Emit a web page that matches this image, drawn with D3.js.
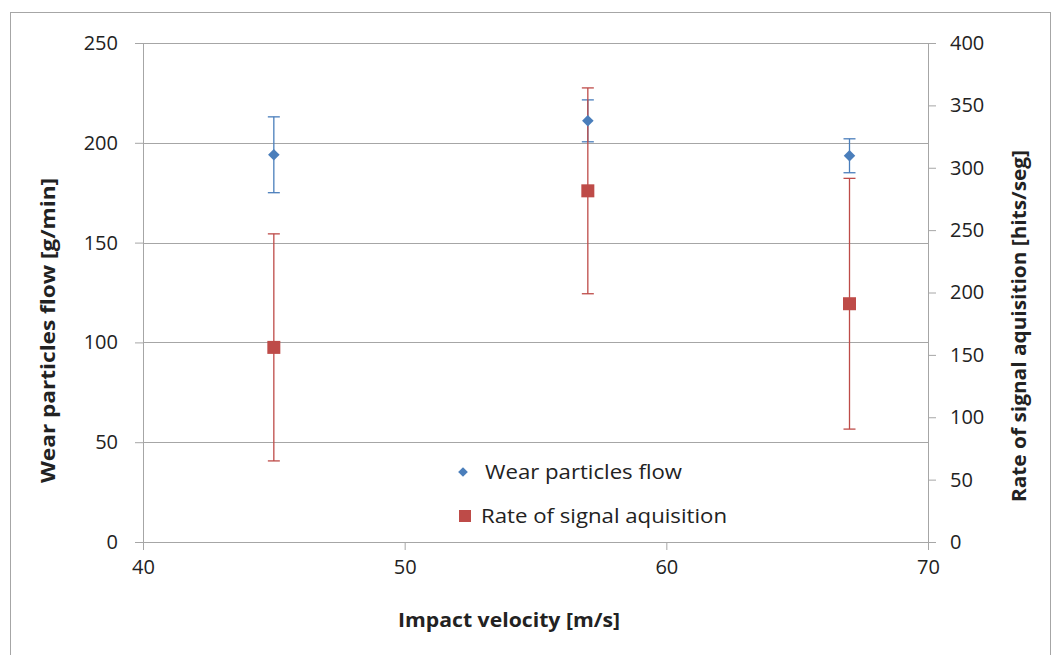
<!DOCTYPE html>
<html>
<head>
<meta charset="utf-8">
<script src="https://cdn.jsdelivr.net/npm/d3@7"></script>
<style>
  body { margin: 0; background: #fff; }
  svg text { font-family: "Open Sans", "Liberation Sans", sans-serif; fill: #222; }
</style>
</head>
<body>
<script>
// impact velocity [m/s]
var velocity = [45, 57, 67];
// wear particles flow [g/min] and its error
var wearFlow = [194, 211, 193.5];
var wearErr = [19, 10.5, 8.5];
// rate of signal aquisition [hits/seg] and its error
var signalRate = [156, 281.5, 191];
var signalErr = [91, 82.5, 100.5];

var xTicks = [40, 50, 60, 70];
var leftTicks = [0, 50, 100, 150, 200, 250];
var rightTicks = [0, 50, 100, 150, 200, 250, 300, 350, 400];

var W = 1057, H = 655;
var margin = { top: 43, right: 129, bottom: 113, left: 143 },
    width = W - margin.left - margin.right,
    height = H - margin.top - margin.bottom;

var blue = "#4a7ebb", red = "#be4b48";
var gridColor = "#a6a6a6";

var svg = d3.select("body").append("svg")
  .attr("width", W)
  .attr("height", H);

// chart frame
svg.append("rect")
  .attr("x", 10.5).attr("y", 12.5)
  .attr("width", 1040).attr("height", 660)
  .attr("fill", "none")
  .attr("stroke", "#a6a6a6");

var g = svg.append("g")
  .attr("transform", "translate(" + margin.left + "," + margin.top + ")");

var x = d3.scaleLinear().domain([40, 70]).range([0, width]);
var yL = d3.scaleLinear().domain([0, 250]).range([height, 0]);
var yR = d3.scaleLinear().domain([0, 400]).range([height, 0]);

// horizontal grid lines
g.append("g")
  .selectAll("line")
  .data(leftTicks.filter(function (d) { return d > 0; }))
  .join("line")
  .attr("x1", 0).attr("x2", width)
  .attr("y1", function (d) { return Math.round(yL(d)) + 0.5; })
  .attr("y2", function (d) { return Math.round(yL(d)) + 0.5; })
  .attr("stroke", gridColor);

// axes
function styleAxis(sel) {
  sel.select(".domain").attr("stroke", gridColor);
  sel.selectAll(".tick line").attr("stroke", gridColor);
  sel.selectAll(".tick text").style("font-size", "20px").attr("fill", "#222");
}

g.append("g")
  .attr("transform", "translate(0," + height + ")")
  .call(d3.axisBottom(x).tickValues(xTicks).tickSize(8).tickSizeOuter(0).tickPadding(10))
  .call(styleAxis);

g.append("g")
  .call(d3.axisLeft(yL).tickValues(leftTicks).tickSize(8).tickSizeOuter(0).tickPadding(17))
  .call(styleAxis);

g.append("g")
  .attr("transform", "translate(" + width + ",0)")
  .call(d3.axisRight(yR).tickValues(rightTicks).tickSize(8).tickSizeOuter(0).tickPadding(14))
  .call(styleAxis);

// error bars
function errorBars(vals, errs, y, color) {
  var eb = g.append("g").attr("stroke", color).attr("stroke-width", 1.3);
  velocity.forEach(function (v, i) {
    var cx = x(v);
    var top = y(vals[i] + errs[i]), bot = y(vals[i] - errs[i]);
    eb.append("line").attr("x1", cx).attr("x2", cx).attr("y1", top).attr("y2", bot);
    eb.append("line").attr("x1", cx - 6).attr("x2", cx + 6).attr("y1", top).attr("y2", top);
    eb.append("line").attr("x1", cx - 6).attr("x2", cx + 6).attr("y1", bot).attr("y2", bot);
  });
}
errorBars(wearFlow, wearErr, yL, blue);
errorBars(signalRate, signalErr, yR, red);

// markers
var diamond = d3.symbol().type(d3.symbolDiamond2).size(85);
g.append("g").selectAll("path")
  .data(velocity)
  .join("path")
  .attr("transform", function (d, i) { return "translate(" + x(d) + "," + yL(wearFlow[i]) + ")"; })
  .attr("d", diamond)
  .attr("fill", blue);

g.append("g").selectAll("rect")
  .data(velocity)
  .join("rect")
  .attr("x", function (d) { return x(d) - 6.5; })
  .attr("y", function (d, i) { return yR(signalRate[i]) - 6.5; })
  .attr("width", 13).attr("height", 13)
  .attr("fill", red);

// legend
var legend = svg.append("g");
legend.append("path")
  .attr("transform", "translate(463,472)")
  .attr("d", d3.symbol().type(d3.symbolDiamond2).size(60))
  .attr("fill", blue);
legend.append("text")
  .attr("x", 485).attr("y", 479)
  .attr("textLength", 197).attr("lengthAdjust", "spacingAndGlyphs")
  .style("font-size", "20px")
  .text("Wear particles flow");
legend.append("rect")
  .attr("x", 459).attr("y", 510).attr("width", 12).attr("height", 12)
  .attr("fill", red);
legend.append("text")
  .attr("x", 481).attr("y", 523)
  .attr("textLength", 246).attr("lengthAdjust", "spacingAndGlyphs")
  .style("font-size", "20px")
  .text("Rate of signal aquisition");

// axis titles
svg.append("text")
  .attr("x", 398).attr("y", 627)
  .attr("textLength", 222).attr("lengthAdjust", "spacingAndGlyphs")
  .style("font-size", "20px").style("font-weight", "bold")
  .text("Impact velocity [m/s]");

svg.append("text")
  .attr("transform", "translate(55,483) rotate(-90)")
  .attr("textLength", 305).attr("lengthAdjust", "spacingAndGlyphs")
  .style("font-size", "20px").style("font-weight", "bold")
  .text("Wear particles flow [g/min]");

svg.append("text")
  .attr("transform", "translate(1026,502) rotate(-90)")
  .attr("textLength", 352).attr("lengthAdjust", "spacingAndGlyphs")
  .style("font-size", "20px").style("font-weight", "bold")
  .text("Rate of signal aquisition [hits/seg]");
</script>
</body>
</html>
